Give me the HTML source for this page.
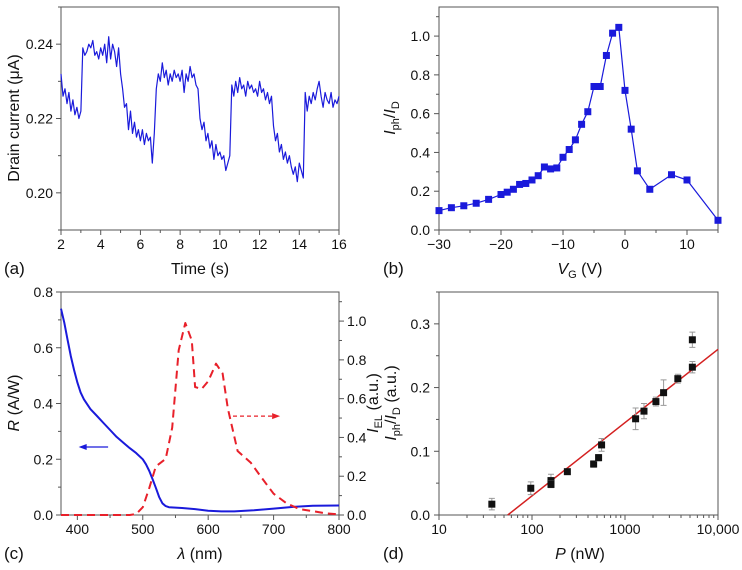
<!DOCTYPE html>
<html><head><meta charset="utf-8"><style>
html,body{margin:0;padding:0;background:#fff;}
svg{display:block;font-family:"Liberation Sans",Arial,sans-serif;}
</style></head><body>
<svg id="fig" width="742" height="570" viewBox="0 0 742 570" xmlns="http://www.w3.org/2000/svg"></svg>
<script>
// ---- Panel (a) data ----
const aStart = 2, aStep = 0.1;
const aCurrent = [0.232,0.226,0.228,0.224,0.227,0.222,0.225,0.221,0.223,0.220,0.222,
0.239,0.237,0.238,0.240,0.239,0.241,0.237,0.238,0.236,0.239,0.237,0.240,0.235,0.242,0.236,0.240,0.238,0.234,0.239,0.232,
0.228,0.223,0.224,0.217,0.222,0.216,0.219,0.215,0.217,0.214,0.217,0.213,0.216,0.214,0.215,0.208,0.216,
0.228,0.232,0.230,0.235,0.231,0.233,0.229,0.232,0.230,0.233,0.231,0.232,0.230,0.233,0.227,0.232,0.230,0.234,0.231,0.232,0.229,
0.228,0.220,0.217,0.219,0.214,0.216,0.212,0.214,0.209,0.213,0.210,0.211,0.209,0.210,0.206,0.208,0.210,
0.229,0.226,0.230,0.227,0.231,0.228,0.229,0.226,0.230,0.228,0.229,0.227,0.228,0.226,0.230,0.227,0.228,0.225,0.227,0.224,0.226,
0.218,0.214,0.216,0.211,0.213,0.209,0.211,0.208,0.210,0.207,0.205,0.207,0.203,0.208,0.206,0.204,
0.227,0.222,0.226,0.224,0.227,0.225,0.228,0.230,0.226,0.223,0.227,0.225,0.224,0.227,0.223,0.225,0.224,0.226];
const aXTicks = [2,4,6,8,10,12,14,16];
const aYTicks = [0.20,0.22,0.24];
// ---- Panel (b) data ----
const bVg = [-30,-28,-26,-24,-22,-20,-19,-18,-17,-16,-15,-14,-13,-12,-11,-10,-9,-8,-7,-6,-5,-4,-3,-2,-1,0,1,2,4,7.5,10,15];
const bRatio = [0.10,0.115,0.125,0.138,0.158,0.183,0.195,0.21,0.235,0.24,0.258,0.28,0.325,0.315,0.32,0.375,0.415,0.465,0.545,0.61,0.74,0.74,0.9,1.015,1.045,0.72,0.52,0.305,0.21,0.285,0.258,0.05];
const bXTicks = [-30,-20,-10,0,10];
const bYTicks = [0,0.2,0.4,0.6,0.8,1.0];
// ---- Panel (c) data ----
const cLamR = [375,380,385,390,395,400,405,410,420,430,440,450,460,470,480,490,500,505,510,515,520,525,530,535,540,560,580,600,620,640,670,700,730,760,800];
const cR = [0.74,0.69,0.63,0.57,0.52,0.475,0.44,0.415,0.38,0.355,0.33,0.305,0.28,0.26,0.24,0.222,0.20,0.182,0.158,0.128,0.098,0.065,0.042,0.032,0.028,0.025,0.021,0.015,0.013,0.013,0.017,0.023,0.029,0.033,0.034];
const cLamEL = [375,480,490,500,510,520,535,545,555,565,575,580,590,600,612,622,630,645,665,680,700,720,740,760,780,800];
const cEL = [0,0,0.005,0.04,0.14,0.25,0.29,0.45,0.85,0.99,0.9,0.66,0.65,0.69,0.78,0.73,0.55,0.33,0.27,0.20,0.11,0.06,0.03,0.02,0.008,0.003];
const cXTicks = [400,500,600,700,800];
const cYTicks = [0,0.2,0.4,0.6,0.8];
const cY2Ticks = [0,0.2,0.4,0.6,0.8,1.0];
// ---- Panel (d) data ----
const dP = [37,97,160,160,240,460,520,560,1300,1600,2150,2600,3700,5300,5300];
const dVal = [0.017,0.042,0.054,0.048,0.068,0.080,0.090,0.110,0.151,0.163,0.178,0.192,0.214,0.232,0.275];
const dErr = [0.009,0.010,0.010,0.005,0.004,0.005,0.005,0.010,0.017,0.012,0.007,0.020,0.007,0.009,0.012];
const dFit = [0.115,-0.2]; // slope, intercept vs log10(P)
const dXTicks = [10,100,1000,10000];
const dXLabels = ["10","100","1000","10,000"];
const dYTicks = [0,0.1,0.2,0.3];

const NS="http://www.w3.org/2000/svg", svg=document.getElementById('fig');
function el(tag,attrs,parent){const e=document.createElementNS(NS,tag);for(const k in attrs)e.setAttribute(k,attrs[k]);(parent||svg).appendChild(e);return e;}
function lin(d0,d1,r0,r1){return v=>r0+(v-d0)*(r1-r0)/(d1-d0);}
function txt(x,y,s,opts,parent){const t=el('text',Object.assign({x:x,y:y,'font-size':14,fill:'#111','text-anchor':'middle'},opts||{}),parent);t.innerHTML=s;return t;}
function box(x0,y0,x1,y1,name){const r=el('rect',{x:x0,y:y0,width:x1-x0,height:y1-y0,fill:'none',stroke:'#555','stroke-width':1});

}
function tick(x1,y1,x2,y2){el('line',{x1:x1,y1:y1,x2:x2,y2:y2,stroke:'#555','stroke-width':1});}
function path(pts,opts,name){const d=pts.map((p,i)=>(i?'L':'M')+p[0].toFixed(1)+','+p[1].toFixed(1)).join('');const p=el('path',Object.assign({d:d,fill:'none','stroke-linejoin':'round'},opts));

return p;}

// ===== Panel a =====
{const X=lin(2,16,61,339),Y=lin(0.19,0.25,230,7);
box(61,7,339,230,'panel-a-plot-area');
for(let v=2;v<=16;v+=1){tick(X(v),230,X(v),v%2==0?235:233);}
aXTicks.forEach(v=>txt(X(v),249,v));
for(let v=0.19;v<=0.2501;v+=0.01){const maj=Math.round(v*100)%2==0;tick(61,Y(v),maj?56:58,Y(v));}
aYTicks.forEach(v=>txt(53,Y(v)+5,v.toFixed(2),{'text-anchor':'end'}));
path(aCurrent.map((v,i)=>[X(aStart+i*aStep),Y(v)]),{stroke:'#1a1adb','stroke-width':1.2},'drain-current-line');
txt(200,274,'Time (s)',{'font-size':16});
txt(0,0,'Drain current (μA)',{'font-size':16,transform:'translate(19,118) rotate(-90)'});
txt(4,274,'(a)',{'font-size':17,'text-anchor':'start'});}

// ===== Panel b =====
{const X=lin(-30,15,439,718),Y=lin(0,1.15,230,7);
box(439,7,718,230,'panel-b-plot-area');
for(let v=-30;v<=15;v+=5){tick(X(v),230,X(v),v%10==0?235:233);}
bXTicks.forEach(v=>txt(X(v),249,v<0?'−'+(-v):v));
for(let k=0;k<=11;k++){const v=k/10;tick(439,Y(v),k%2==0?434:436,Y(v));}
bYTicks.forEach(v=>txt(430,Y(v)+5,v.toFixed(1),{'text-anchor':'end'}));
path(bVg.map((v,i)=>[X(v),Y(bRatio[i])]),{stroke:'#1a1adb','stroke-width':1.2},'photoresponse-line');
bVg.forEach((v,i)=>{const r=el('rect',{x:X(v)-3.5,y:Y(bRatio[i])-3.5,width:7,height:7,fill:'#1a1adb'});

});
txt(580,274,'<tspan font-style="italic">V</tspan><tspan font-size="11" dy="4">G</tspan><tspan dy="-4"> (V)</tspan>',{'font-size':16});
txt(0,0,'<tspan font-style="italic">I</tspan><tspan font-size="11" dy="4">ph</tspan><tspan dy="-4">/</tspan><tspan font-style="italic">I</tspan><tspan font-size="11" dy="4">D</tspan>',{'font-size':16,transform:'translate(395,118) rotate(-90)'});
txt(383,274,'(b)',{'font-size':17,'text-anchor':'start'});}

// ===== Panel c =====
{const X=lin(375,800,61,339),Y=lin(0,0.8,515,292),Y2=lin(0,1.15,515,292);
box(61,292,339,515,'panel-c-plot-area');
for(let v=400;v<=800;v+=50){tick(X(v),515,X(v),v%100==0?520:518);}
cXTicks.forEach(v=>txt(X(v),534,v));
for(let k=0;k<=8;k++){const v=k/10;tick(61,Y(v),k%2==0?56:58,Y(v));}
cYTicks.forEach(v=>txt(53,Y(v)+5,v.toFixed(1),{'text-anchor':'end'}));
for(let k=0;k<=11;k++){const v=k/10;tick(339,Y2(v),k%2==0?344:342,Y2(v));}
cY2Ticks.forEach(v=>txt(347,Y2(v)+5,v.toFixed(1),{'text-anchor':'start'}));
path(cLamR.map((v,i)=>[X(v),Y(cR[i])]),{stroke:'#1a1adb','stroke-width':2},'responsivity-line');
path(cLamEL.map((v,i)=>[X(v),Y2(cEL[i])]),{stroke:'#e8202a','stroke-width':2,'stroke-dasharray':'8,5'},'electroluminescence-line');
path([[X(447),Y(0.244)],[X(405),Y(0.244)]],{stroke:'#1a1adb','stroke-width':1.2},'left-axis-arrow');
el('polygon',{points:`${X(402)},${Y(0.244)} ${X(402)+8},${Y(0.244)-3} ${X(402)+8},${Y(0.244)+3}`,fill:'#1a1adb'});
path([[X(638),Y2(0.51)],[X(705),Y2(0.51)]],{stroke:'#e8202a','stroke-width':1.2,'stroke-dasharray':'4,3'},'right-axis-arrow');
el('polygon',{points:`${X(710)},${Y2(0.51)} ${X(710)-8},${Y2(0.51)-3} ${X(710)-8},${Y2(0.51)+3}`,fill:'#e8202a'});
txt(200,559,'<tspan font-style="italic">λ</tspan> (nm)',{'font-size':16});
txt(0,0,'<tspan font-style="italic">R</tspan> (A/W)',{'font-size':16,transform:'translate(19,403) rotate(-90)'});
txt(0,0,'<tspan font-style="italic">I</tspan><tspan font-size="11" dy="4">EL</tspan><tspan dy="-4"> (a.u.)</tspan>',{'font-size':16,transform:'translate(378,403) rotate(-90)'});
txt(4,559,'(c)',{'font-size':17,'text-anchor':'start'});}

// ===== Panel d =====
{const L=lin(1,4,439,718),X=v=>L(Math.log10(v)),Y=lin(0,0.35,515,292);
box(439,292,718,515,'panel-d-plot-area');
for(let d=10;d<10000;d*=10){for(let m=1;m<10;m++){const v=d*m;tick(X(v),515,X(v),m==1?520:518);}}
tick(X(10000),515,X(10000),520);
dXTicks.forEach((v,i)=>txt(X(v),534,dXLabels[i]));
for(let k=0;k<=7;k++){const v=k*0.05;tick(439,Y(v),k%2==0?434:436,Y(v));}
dYTicks.forEach(v=>txt(430,Y(v)+5,v.toFixed(1),{'text-anchor':'end'}));
const p0=Math.pow(10,-dFit[1]/dFit[0]);
const fit=el('line',{x1:X(p0),y1:Y(0),x2:X(10000),y2:Y(dFit[0]*4+dFit[1]),stroke:'#d42020','stroke-width':1.5});


dP.forEach((p,i)=>{const x=X(p),y=Y(dVal[i]),e=dErr[i];
const eb=el('path',{d:`M${x},${Y(dVal[i]-e)}V${Y(dVal[i]+e)}M${x-3},${Y(dVal[i]-e)}h6M${x-3},${Y(dVal[i]+e)}h6`,stroke:'#999','stroke-width':1,fill:'none'});


const r=el('rect',{x:x-3.5,y:y-3.5,width:7,height:7,fill:'#111'});

});
txt(580,559,'<tspan font-style="italic">P</tspan> (nW)',{'font-size':16});
txt(0,0,'<tspan font-style="italic">I</tspan><tspan font-size="11" dy="4">ph</tspan><tspan dy="-4">/</tspan><tspan font-style="italic">I</tspan><tspan font-size="11" dy="4">D</tspan><tspan dy="-4"> (a.u.)</tspan>',{'font-size':16,transform:'translate(396,403) rotate(-90)'});
txt(383,559,'(d)',{'font-size':17,'text-anchor':'start'});}
</script>
</body></html>
